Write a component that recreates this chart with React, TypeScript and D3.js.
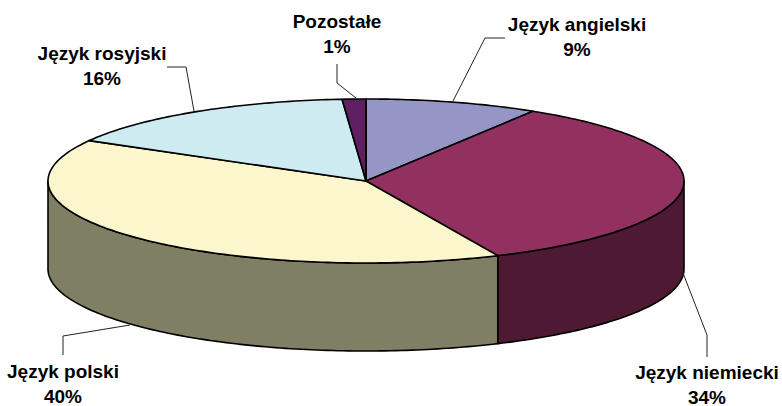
import * as d3 from "d3";
import React from "react";

const categories = ["Język angielski", "Język niemiecki", "Język polski", "Język rosyjski", "Pozostałe"];
const shares = [8.8, 34.4, 40, 15.6, 1.2];
const shareLabels = ["9%", "34%", "40%", "16%", "1%"];
const topColors = ["#9696c6", "#923060", "#fbf6cc", "#cdebf1", "#601f60"];
const wallColors = ["#4b4b63", "#4e1a33", "#7f7f64", "#66767a", "#300f30"];

// label centre x, first line baseline, leader polyline
const labelLayout = [
  { x: 577, y: 31, leader: [[505, 38], [485, 38], [453, 101]] },
  { x: 707, y: 379, leader: [[707, 357], [707, 335], [683, 273]] },
  { x: 63, y: 378, leader: [[63, 355], [63, 336], [130, 325]] },
  { x: 102, y: 60, leader: [[167, 67], [186, 67], [194, 111]] },
  { x: 337, y: 28, leader: [[337, 64], [337, 83], [356, 98]] },
];

const width = 782;
const height = 406;
const cx = 366;
const cy = 181;
const rx = 318;
const ry = 82;
const depth = 88;

const xAt = (a: number) => cx + rx * Math.sin(a);
const yAt = (a: number) => cy - ry * Math.cos(a);

function arcPoints(a0: number, a1: number, dy = 0): [number, number][] {
  const n = Math.max(2, Math.ceil((a1 - a0) * 60));
  return d3.range(n + 1).map((i) => {
    const a = a0 + ((a1 - a0) * i) / n;
    return [xAt(a), yAt(a) + dy] as [number, number];
  });
}

const line = d3.line();

export default function App() {
  const arcs = d3.pie<number>().sort(null)(shares);

  return (
    <svg
      width={width}
      height={height}
      style={{ position: "absolute", left: 0, top: 0, background: "#fff" }}
      fontFamily="'Liberation Sans', Arial, sans-serif"
    >
      {arcs.map((d, i) => {
        // only the front half of the rim shows
        const a0 = Math.max(d.startAngle, Math.PI / 2);
        const a1 = Math.min(d.endAngle, (3 * Math.PI) / 2);
        if (a1 <= a0) return null;
        const top = arcPoints(a0, a1);
        const bottom = arcPoints(a0, a1, depth).reverse();
        return (
          <path
            key={i}
            d={line([...top, ...bottom]) + "Z"}
            fill={wallColors[i]}
            stroke="#000"
            strokeWidth={1.6}
            strokeLinejoin="round"
          />
        );
      })}
      {arcs.map((d, i) => (
        <path
          key={i}
          d={line([[cx, cy], ...arcPoints(d.startAngle, d.endAngle)]) + "Z"}
          fill={topColors[i]}
          stroke="#000"
          strokeWidth={1.6}
          strokeLinejoin="round"
        />
      ))}
      {labelLayout.map((l, i) => (
        <g key={i}>
          <path d={line(l.leader as [number, number][]) ?? ""} fill="none" stroke="#222" strokeWidth={1} />
          <text x={l.x} y={l.y} textAnchor="middle" fontSize={19} fontWeight="bold" fill="#000">
            {categories[i]}
          </text>
          <text x={l.x} y={l.y + 25} textAnchor="middle" fontSize={19} fontWeight="bold" fill="#000">
            {shareLabels[i]}
          </text>
        </g>
      ))}
    </svg>
  );
}
